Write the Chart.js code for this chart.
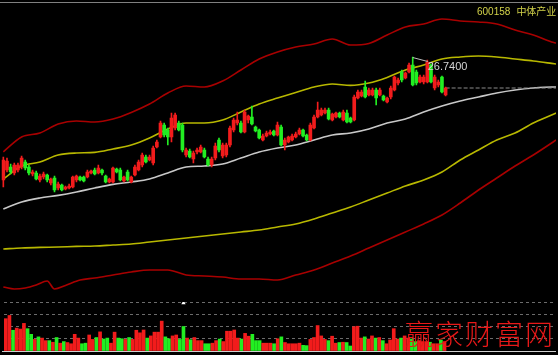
<!DOCTYPE html>
<html><head><meta charset="utf-8">
<script src="https://cdn.jsdelivr.net/npm/chart.js@4.4.1/dist/chart.umd.min.js"></script>
<style>
html,body{margin:0;padding:0;background:#000;}
#wrap{position:relative;width:558px;height:355px;background:#000;overflow:hidden;}
#c1{position:absolute;left:0;top:0;}
#c2{position:absolute;left:0;top:298px;}
#topline{position:absolute;left:0;top:2px;width:558px;height:1px;background:#808080;}
#botline{position:absolute;left:2px;top:351px;width:554px;height:1px;background:#d0d0d0;}
#title{position:absolute;left:477px;top:3px;color:#d2d24a;font:10px "Liberation Sans","Noto Sans CJK SC",sans-serif;white-space:nowrap;}
#title .cn{font-family:"Noto Sans CJK SC",sans-serif;margin-left:6px;}
#wm{position:absolute;left:405px;top:313px;color:#e81818;font:300 28px "Noto Sans CJK SC",sans-serif;letter-spacing:2px;white-space:nowrap;}
</style></head>
<body>
<div id="wrap">
<canvas id="c1" width="558" height="298"></canvas>
<canvas id="c2" width="558" height="57"></canvas>
<div id="topline"></div>
<div id="botline"></div>
<div id="title">600158<span class="cn">中体产业</span></div>
<div id="wm">赢家财富网</div>
</div>
<script>
// ---- daily candles (price) ----
const open = [20.59,21.09,21.24,20.94,21.09,21.24,21.49,21.24,20.89,20.94, 20.59,20.74,20.84,20.44,20.69,20.19,20.34,20.14,20.19,20.24, 20.59,20.74,20.74,20.74,20.94,21.09,20.94,21.09,20.79,20.49, 20.49,21.14,21.09,20.54,20.99,20.49,20.84,21.09,21.34,21.74, 21.59,21.44,22.24,22.74,23.34,23.09,22.74,23.19,23.44,23.34, 21.84,22.04,21.64,21.99,21.99,22.09,21.64,21.34,21.69,22.59, 21.79,21.84,22.34,23.09,23.44,23.44,22.99,23.59,23.74,23.24, 23.09,22.59,22.79,22.89,23.04,22.84,23.24,22.34,22.49,22.59, 22.74,22.89,23.09,22.84,22.59,23.19,23.74,23.84,23.94,24.09, 23.59,23.74,23.94,23.59,23.94,23.69,23.59,24.69,24.79,25.24, 24.84,24.84,25.09,24.84,24.79,24.49,24.74,25.09,25.44,25.99, 25.69,25.99,26.34,25.99,25.49,25.49,25.49,26.34,25.19,25.34, 25.74,24.84];
const high = [21.74,21.69,21.39,21.44,21.44,21.79,21.59,21.34,21.09,21.04, 20.89,20.99,20.89,20.69,20.79,20.49,20.39,20.29,20.39,20.79, 20.84,20.79,20.79,21.09,21.09,21.19,21.34,21.14,20.84,20.69, 21.24,21.19,21.19,20.79,21.09,20.79,21.34,21.59,21.94,21.84, 21.84,22.29,22.59,23.54,23.44,23.19,23.94,23.94,23.54,23.44, 22.19,22.14,22.04,22.19,22.34,22.19,21.74,21.74,22.44,22.69, 22.44,22.44,23.29,23.69,23.99,23.54,24.09,23.84,24.29,23.29, 23.14,22.89,23.04,23.09,23.09,23.49,23.34,22.69,22.79,22.89, 22.99,23.19,23.14,22.89,23.44,23.84,24.49,24.19,24.19,24.19, 23.94,23.99,23.99,24.09,24.09,23.74,24.84,25.09,25.09,25.54, 25.19,25.19,25.19,25.19,24.84,24.74,25.29,25.79,25.69,26.09, 25.99,26.44,26.74,26.09,25.84,25.84,26.59,26.39,25.84,25.59, 25.79,25.24];
const low = [20.24,20.99,20.89,20.84,20.99,21.14,21.09,20.84,20.79,20.59, 20.49,20.64,20.49,20.34,19.99,20.09,20.04,20.09,20.14,20.19, 20.49,20.54,20.49,20.69,20.89,20.84,20.89,20.84,20.44,20.44, 20.44,20.94,20.54,20.49,20.54,20.44,20.79,21.04,21.24,21.44, 21.54,21.34,22.19,22.69,22.74,22.34,22.49,23.09,23.04,21.99, 21.74,21.69,21.44,21.89,21.94,21.69,21.29,21.24,21.59,21.99, 21.69,21.74,22.24,22.99,23.34,22.94,22.94,23.44,23.34,22.99, 22.64,22.54,22.74,22.84,22.79,22.79,22.29,22.09,22.44,22.54, 22.69,22.84,22.74,22.54,22.54,23.14,23.69,23.79,23.89,23.59, 23.54,23.69,23.69,23.54,23.44,23.44,23.54,24.64,24.74,24.69, 24.79,24.79,24.34,24.79,24.54,24.44,24.64,25.04,25.34,25.49, 25.64,25.94,25.29,25.34,25.44,25.39,25.44,25.44,25.09,25.24, 24.94,24.79];
const close = [21.59,21.54,20.99,21.34,21.34,21.69,21.19,20.94,20.99,20.64, 20.79,20.89,20.59,20.64,20.09,20.39,20.09,20.24,20.29,20.74, 20.79,20.59,20.54,20.99,21.04,20.89,21.19,20.94,20.49,20.64, 21.19,20.99,20.59,20.74,20.59,20.74,21.24,21.49,21.84,21.49, 21.74,22.19,22.49,23.44,22.84,22.74,23.69,23.84,23.09,22.09, 22.09,21.74,21.94,22.09,22.24,21.74,21.34,21.64,22.29,22.09, 22.34,22.34,23.19,23.59,23.59,22.99,23.99,23.79,23.39,23.04, 22.69,22.79,22.94,22.99,22.84,23.34,22.34,22.59,22.74,22.79, 22.89,23.09,22.79,22.59,23.34,23.74,24.09,24.09,24.09,23.64, 23.89,23.94,23.74,23.99,23.49,23.49,24.74,24.99,24.99,24.74, 25.09,25.09,24.69,25.09,24.59,24.69,25.19,25.74,25.59,25.59, 25.94,26.34,25.34,25.44,25.74,25.74,26.49,25.49,25.74,25.49, 24.99,25.19];
const volume = [34.3,37.7,22,24.3,23.3,29.3,23.7,17.7,12.3,15, 13.7,11,11,9.3,14.3,8.3,10,9,7.7,17.7, 13.7,7.7,8.3,17,12.3,14.3,20.3,12.7,13.7,8.3, 20,13.7,13,12.3,14.3,12.3,22,19.3,22.3,13.7, 16,20,20,31.7,15,13,16,17,12.3,26, 13.7,12,14.3,11,11,7.7,7.7,8.3,11,12.7, 10,21,21,22.3,13.7,12.7,18.7,15.7,17.7,11, 11,8.3,8.3,8.3,7.7,13,15,9,7.7,7.7, 7.7,8.3,6,5.7,12.3,14.3,27,16,12.3,11, 15.7,8.3,9,9.3,9,5.3,25.7,26.3,13.7,15, 12.7,16,13.7,14.3,11,7.7,11.7,23.7,12.7,13.7, 16,13.7,12.7,10,11,10,10,9.3,7.7,7.7, 11.7,10];

// ---- band lines (day index -> price) ----
const bandAt = [0,5,10,15,20,25,30,35,40,45,50,55,60,65,70,75,80,85,90,95,100,105,110,115,120,125,130,135,140,145,150,151.2];
const upperOuter = [22.00,22.74,22.94,23.39,23.54,23.49,23.64,23.97,24.39,24.94,25.29,25.24,25.54,26.09,26.64,26.99,27.24,27.39,27.64,27.34,27.42,27.84,28.24,28.39,28.64,28.54,28.49,28.39,28.09,27.84,27.49,27.44];
const upperInner = [20.64,21.29,21.49,21.84,21.94,21.97,22.14,22.34,22.69,23.14,23.44,23.44,23.59,23.99,24.39,24.69,24.97,25.24,25.39,25.32,25.44,25.72,26.09,26.34,26.64,26.74,26.79,26.74,26.64,26.54,26.42,26.39];
const middle = [19.14,19.49,19.69,19.82,19.99,20.19,20.37,20.49,20.64,20.94,21.24,21.29,21.39,21.69,21.99,22.19,22.34,22.59,22.84,22.94,23.14,23.44,23.64,23.99,24.29,24.54,24.74,24.94,25.09,25.19,25.24,25.24];
const lowerInner = [17.14,17.19,17.22,17.24,17.27,17.29,17.34,17.39,17.49,17.59,17.69,17.79,17.89,17.99,18.09,18.24,18.39,18.64,18.94,19.24,19.59,19.94,20.29,20.59,20.99,21.59,22.09,22.59,22.94,23.44,23.84,23.94];
const lowerOuterAt = [0,3,6,9,12,14,17,21,25,30,35,40,45,50,55,60,65,70,75,80,85,90,95,100,105,110,115,120,125,130,135,140,145,150,151.2];
const lowerOuter = [15.24,15.14,15.19,15.34,15.54,15.14,15.32,15.59,15.69,15.84,15.99,16.09,16.09,15.84,15.79,15.74,15.64,15.64,15.59,15.84,16.09,16.44,16.79,17.19,17.59,17.99,18.39,18.84,19.44,20.09,20.69,21.29,21.84,22.44,22.59];
const markerDays = [49];

const RED = '#f21c1c', GREEN = '#22ee22';
const up = close.map((c,i)=> c >= open[i]);
const candleColors = up.map(u => u ? RED : GREEN);
const X_MIN = -0.5, X_MAX = 151.2;

function pts(xs, ys){ return xs.map((x,i)=>({x:x, y:ys[i]})); }
function band(label, xs, ys, color){
  return {type:'line', label, data: pts(xs, ys), borderColor: color, borderWidth: 1.6,
    pointRadius: 0, cubicInterpolationMode: 'monotone', order: 5};
}

let hiIdx = 0; high.forEach((v,i)=>{ if (v > high[hiIdx]) hiIdx = i; });
const lastIdx = close.length - 1;

const hiLabel = {
  id: 'hiLabel',
  afterDatasetsDraw(chart){
    const {ctx, scales:{x, y}} = chart;
    const px = x.getPixelForValue(hiIdx), py = y.getPixelForValue(high[hiIdx]);
    ctx.save();
    ctx.strokeStyle = '#bdbdbd'; ctx.lineWidth = 1;
    ctx.beginPath(); ctx.moveTo(px, py + 0.5); ctx.lineTo(px + 15, py + 4.5); ctx.stroke();
    ctx.fillStyle = '#d4d4d4'; ctx.font = '11px "Liberation Sans", Arial, sans-serif';
    ctx.textBaseline = 'middle';
    ctx.fillText(high[hiIdx].toFixed(4), px + 15, py + 10);
    ctx.restore();
  }
};

const xScale = {type:'linear', min:X_MIN, max:X_MAX, display:false, offset:false};

new Chart(document.getElementById('c1'), {
  type: 'bar',
  data: { datasets: [
    band('upperOuter', bandAt, upperOuter, '#a80000'),
    band('upperInner', bandAt, upperInner, '#b8b800'),
    band('middle', bandAt, middle, '#c8c8c8'),
    band('lowerInner', bandAt, lowerInner, '#b8b800'),
    band('lowerOuter', lowerOuterAt, lowerOuter, '#a80000'),
    {type:'line', label:'lastClose', data:[{x:lastIdx, y:close[lastIdx]},{x:X_MAX, y:close[lastIdx]}],
      borderColor:'#8c8c8c', borderWidth:1.2, borderDash:[4,2], pointRadius:0, order:4},
    {type:'bar', label:'wick', data: low.map((l,i)=>({x:i, y:[l, high[i]]})),
      backgroundColor: candleColors, barThickness: 1, grouped:false, order:2},
    {type:'bar', label:'body', data: open.map((o,i)=>({x:i, y:[o, close[i]]})),
      backgroundColor: candleColors, barThickness: 3, grouped:false, order:1, minBarLength:1}
  ]},
  options: {
    responsive:false, animation:false, events:[],
    layout:{padding:{left:1.5, right:2, top:5, bottom:0}},
    scales:{ x: xScale, y:{min:14.69, max:29.34, display:false} },
    plugins:{legend:{display:false}, tooltip:{enabled:false}}
  },
  plugins:[hiLabel]
});

new Chart(document.getElementById('c2'), {
  type: 'bar',
  data: { datasets: [
    {type:'bar', label:'volume', data: volume.map((v,i)=>({x:i, y:v})), backgroundColor: candleColors,
      barThickness: 3, grouped:false, order:2},
    {type:'scatter', label:'marker', data: markerDays.map(d=>({x:d, y:51})), pointStyle:'triangle',
      pointRadius:2.5, backgroundColor:'#ffffff', borderColor:'#ffffff', borderWidth:0, order:1}
  ]},
  options: {
    responsive:false, animation:false, events:[],
    layout:{padding:{left:1.5, right:2, top:1, bottom:4}},
    scales:{
      x: xScale,
      y:{min:0, max:52, display:true, afterFit(s){ s.width = 0; },
        ticks:{display:false, stepSize:13},
        grid:{color:'#6c6c6c', drawTicks:false, lineWidth:1},
        border:{display:false, dash:[3,3]}}
    },
    plugins:{legend:{display:false}, tooltip:{enabled:false}}
  }
});
</script>
</body></html>
